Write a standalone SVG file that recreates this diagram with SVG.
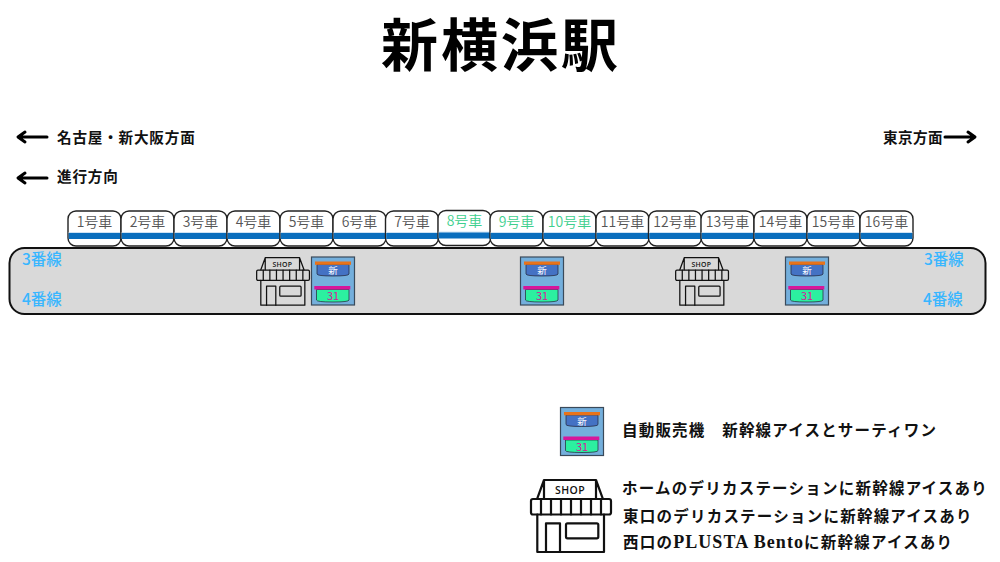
<svg xmlns="http://www.w3.org/2000/svg" width="1000" height="562" viewBox="0 0 1000 562">
<style>
text{font-family:"Noto Sans CJK JP","Noto Sans",sans-serif}
.title{font-size:57px;font-weight:700;fill:#000;text-anchor:middle;letter-spacing:3px}
.dir{font-size:14.6px;font-weight:700;fill:#111;letter-spacing:0.8px}
.leg{font-size:15.5px;font-weight:700;fill:#111}
.legl{font-family:"Liberation Serif","Noto Sans CJK JP",serif;font-weight:700;font-size:18px;letter-spacing:1.05px}
.body{fill:#fff;stroke:#222;stroke-width:1.4}
.cartext{font-size:14px;fill:#555;text-anchor:middle;font-weight:350}
.g{fill:#3ecf8e}
.st{fill:#0a6ebd;stroke:none}
.pale{fill:#cfe3f4;stroke:none}
.track{font-size:15.5px;fill:#38b6ff;font-weight:500}
.s{fill:none;stroke:#111;stroke-width:var(--sw,2.2);stroke-linejoin:round;stroke-linecap:round}
.arrow{fill:none;stroke:#000;stroke-width:3;stroke-linecap:round;stroke-linejoin:round}
.small{--sw:1.9}
</style>
<defs>
<g id="carBase">
<rect class="body" x="0" y="0" width="53" height="35" rx="8"/>
<rect class="pale" x="0.7" y="21" width="51.6" height="1.2"/>
<rect class="st" x="0.7" y="22" width="51.6" height="6"/>
</g>
<g id="shop">
<path class="s" d="M7.3 19.3L14 1H66L72.7 19.3M14 1V19.3M66 1V19.3"/>
<rect class="s" x="1" y="20" width="80" height="15.5" rx="2"/>
<path class="s" d="M11 20V35.500M21 20V35.500M31 20V35.500M41 20V35.500M51 20V35.500M61 20V35.500M71 20V35.500"/>
<path class="s" d="M7.300 35.500V73H74V35.500"/>
<path class="s" d="M16 73V44.300H30V73"/>
<rect class="s" x="36" y="44.300" width="32.300" height="15" rx="1.500"/>
<text x="40" y="14.500" text-anchor="middle" font-size="10.500" font-weight="600" fill="#111" letter-spacing="0.4" style="font-family:'Open Sans',sans-serif">SHOP</text>
</g>
<g id="vend">
<rect x="0.500" y="0.500" width="43" height="48" fill="#74afdc" stroke="#3a4a5a" stroke-width="1.200"/>
<path d="M6 8V17.500Q6 19.500 22 19.500Q38 19.500 38 17.500V8Z" fill="#4472c4" stroke="#223" stroke-width="0.700"/>
<rect x="4" y="5" width="36" height="3.300" fill="#e8731a"/>
<text x="22" y="17.500" text-anchor="middle" font-size="9.500" fill="#fff">新</text>
<path d="M5.500 33V43.500Q5.500 45.500 22 45.500Q38 45.500 38 43.500V33Z" fill="#2cf0a0" stroke="#223" stroke-width="0.700"/>
<rect x="3.300" y="29.500" width="36" height="3.500" fill="#d6169a"/>
<text x="22" y="43.500" text-anchor="middle" font-size="11" fill="#d6169a">31</text>
</g>
</defs>

<text class="title" x="501" y="66">新横浜駅</text>

<g id="direction-labels">
<path class="arrow" d="M47 137H19M25 132L18 137L25 142"/>
<text class="dir" x="57" y="143">名古屋・新大阪方面</text>
<path class="arrow" d="M47 178H19M25 173L18 178L25 183"/>
<text class="dir" x="57" y="182">進行方向</text>
<text class="dir" x="883" y="143" style="letter-spacing:0.4px">東京方面</text>
<path class="arrow" d="M945 137H974M968 132L975 137L968 142"/>
</g>

<g id="platform"><rect x="9.500" y="248" width="976" height="66" rx="15" fill="#d9d9d9" stroke="#111" stroke-width="2"/></g>

<g id="cars">
<g id="car1" transform="translate(68,211)"><use href="#carBase"/><text class="cartext" x="26.500" y="16">1号車</text></g>
<g id="car2" transform="translate(121,211)"><use href="#carBase"/><text class="cartext" x="26.500" y="16">2号車</text></g>
<g id="car3" transform="translate(174,211)"><use href="#carBase"/><text class="cartext" x="26.500" y="16">3号車</text></g>
<g id="car4" transform="translate(227,211)"><use href="#carBase"/><text class="cartext" x="26.500" y="16">4号車</text></g>
<g id="car5" transform="translate(280,211)"><use href="#carBase"/><text class="cartext" x="26.500" y="16">5号車</text></g>
<g id="car6" transform="translate(333,211)"><use href="#carBase"/><text class="cartext" x="26.500" y="16">6号車</text></g>
<g id="car7" transform="translate(385.500,211)"><use href="#carBase"/><text class="cartext" x="26.500" y="16">7号車</text></g>
<g id="car8" transform="translate(438,210.500)"><use href="#carBase"/><text class="cartext g" x="26.500" y="15.500">8号車</text></g>
<g id="car9" transform="translate(490,211)"><use href="#carBase"/><text class="cartext g" x="26.500" y="16">9号車</text></g>
<g id="car10" transform="translate(543,211)"><use href="#carBase"/><text class="cartext g" x="26.500" y="16">10号車</text></g>
<g id="car11" transform="translate(596,211)"><use href="#carBase"/><text class="cartext" x="26.500" y="16">11号車</text></g>
<g id="car12" transform="translate(648.500,211)"><use href="#carBase"/><text class="cartext" x="26.500" y="16">12号車</text></g>
<g id="car13" transform="translate(701,211)"><use href="#carBase"/><text class="cartext" x="26.500" y="16">13号車</text></g>
<g id="car14" transform="translate(754,211)"><use href="#carBase"/><text class="cartext" x="26.500" y="16">14号車</text></g>
<g id="car15" transform="translate(807,211)"><use href="#carBase"/><text class="cartext" x="26.500" y="15.500">15号車</text></g>
<g id="car16" transform="translate(860,211)"><use href="#carBase"/><text class="cartext" x="26.500" y="16">16号車</text></g>
</g>

<g id="track-labels">
<text class="track" x="22" y="265">3番線</text>
<text class="track" x="22" y="305">4番線</text>
<text class="track" x="924" y="265">3番線</text>
<text class="track" x="923" y="305">4番線</text>
</g>

<g id="shop1" class="small" transform="translate(256,257) scale(0.66)"><use href="#shop"/></g>
<g id="shop2" class="small" transform="translate(675,257) scale(0.66)"><use href="#shop"/></g>
<g id="vend1" transform="translate(311,256.500)"><use href="#vend"/></g>
<g id="vend2" transform="translate(520,256.500)"><use href="#vend"/></g>
<g id="vend3" transform="translate(785,256.500)"><use href="#vend"/></g>

<g id="legend-vending">
<use href="#vend" x="560" y="407"/>
<text class="leg" x="622" y="436" letter-spacing="1.200" xml:space="preserve">自動販売機　新幹線アイスとサーティワン</text>
</g>
<g id="legend-shop">
<use href="#shop" x="530" y="479"/>
<text class="leg" x="622" y="494" letter-spacing="1.230">ホームのデリカステーションに新幹線アイスあり</text>
<text class="leg" x="623" y="522" letter-spacing="1.230">東口のデリカステーションに新幹線アイスあり</text>
<text class="leg" x="623" y="548" letter-spacing="1.230">西口の<tspan class="legl">PLUSTA Bento</tspan>に新幹線アイスあり</text>
</g>
</svg>
